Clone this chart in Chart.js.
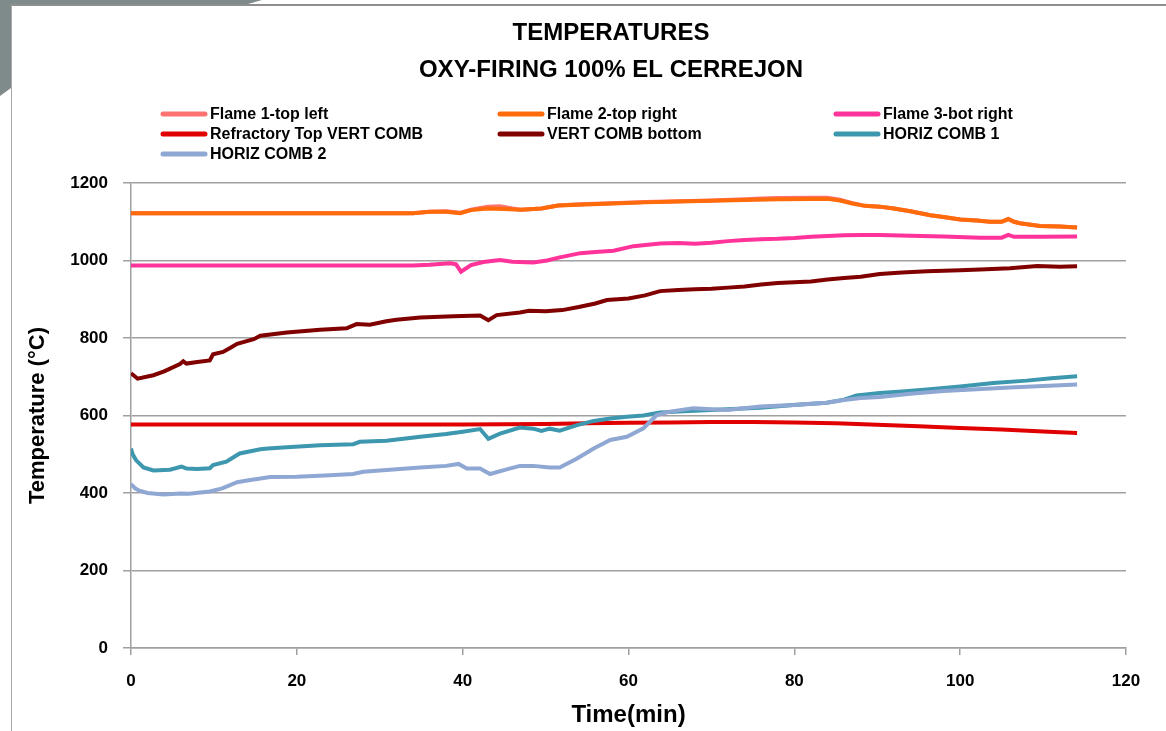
<!DOCTYPE html>
<html>
<head>
<meta charset="utf-8">
<script src="https://cdn.jsdelivr.net/npm/chart.js@4.4.1/dist/chart.umd.min.js"></script>
<style>
  html, body { margin: 0; padding: 0; background: #fff; overflow: hidden; }
  #wrap { position: relative; width: 1166px; height: 731px; }
  #slide { position: absolute; left: 0; top: 0; width: 270px; height: 100px; background: #7f8b8a;
           clip-path: polygon(0 0, 262px 0, 248px 4px, 11px 4px, 11px 88px, 0 96px); }
  #frame { position: absolute; left: 11px; top: 4px; right: 0; bottom: 0;
           border-left: 1.5px solid #a8a8a8; border-top: 2px solid #8e8e8e; }
  canvas { position: absolute; left: 0; top: 0; }
</style>
</head>
<body>
<div id="wrap">
  <div id="slide"></div>
  <div id="frame"></div>
  <canvas id="grafico" width="1166" height="731"></canvas>
</div>
<script>
// títulos y etiquetas
const titulo = ["TEMPERATURES", "OXY-FIRING 100% EL CERREJON"];
const series = ["Flame 1-top left", "Flame 2-top right", "Flame 3-bot right",
                "Refractory Top VERT COMB", "VERT COMB bottom", "HORIZ COMB 1", "HORIZ COMB 2"];
const colores = ["#ff7272", "#ff6a0a", "#ff3399", "#e00000", "#800000", "#3d97ae", "#8fa7d3"];

// tiempo (min) y temperatura (°C)
const flame1Time = [0, 34, 36, 38, 39.7, 41, 43, 44.5, 46, 47, 49.5, 51.5, 54, 58, 62, 66, 70, 74, 76, 78, 82, 84, 85.5, 87, 88.5, 90.3, 92, 94, 96.4, 98, 100, 102, 103.6, 105, 105.8, 106.5, 107.2, 109.6, 112, 114.1];
const flame1Temp = [1122, 1122, 1126, 1127, 1123, 1131, 1139, 1140, 1134, 1131, 1134, 1142, 1145, 1148, 1151, 1153, 1155, 1158, 1160, 1161, 1162, 1162, 1157, 1148, 1141, 1139, 1134, 1127, 1117, 1112, 1106, 1103, 1100, 1100, 1107, 1100, 1096, 1089, 1088, 1085];

const flame2Time = [0, 34, 36, 38, 39.7, 41, 43, 45, 47, 49.5, 51.5, 54, 58, 62, 66, 70, 74, 78, 82, 84, 85.5, 87, 88.5, 90.3, 92, 94, 96.4, 98, 100, 102, 103.6, 105, 105.8, 106.5, 107.2, 109.6, 112, 114.1];
const flame2Temp = [1122, 1122, 1126, 1126, 1122, 1130, 1134, 1133, 1131, 1134, 1142, 1144, 1147, 1150, 1152, 1154, 1156, 1158, 1159, 1159, 1155, 1147, 1141, 1139, 1134, 1127, 1117, 1112, 1106, 1103, 1100, 1100, 1107, 1100, 1096, 1089, 1088, 1085];

const flame3Time = [0, 34, 36, 38.5, 39.2, 39.8, 41, 42.5, 44.5, 46, 48.5, 50.2, 51.7, 54.2, 56, 58.2, 60.6, 63.8, 66, 68, 70, 72, 74, 76, 78, 80, 82, 84, 86, 88, 90.3, 94, 98, 102.4, 105, 105.8, 106.5, 110, 114.1];
const flame3Temp = [987, 987, 989, 993, 990, 971, 988, 996, 1001, 997, 995, 1000, 1008, 1019, 1022, 1025, 1037, 1044, 1045, 1043, 1046, 1050, 1053, 1055, 1056, 1058, 1061, 1063, 1065, 1066, 1066, 1064, 1062, 1059, 1059, 1066, 1061, 1061, 1062];

const refractTime = [0, 20, 40, 50, 55, 60, 65, 70, 75, 80, 85, 90, 95, 100, 105, 110, 114.1];
const refractTemp = [577, 577, 577, 578, 580, 581, 582, 583, 583, 582, 580, 576, 572, 568, 564, 559, 555];

const vertTime = [0, 0.8, 2.7, 4, 5.9, 6.3, 6.7, 8, 9.5, 9.9, 11.1, 12, 12.8, 14.8, 15.6, 18.8, 22.8, 26, 27.2, 28.8, 30.8, 32, 34.9, 38.9, 42.1, 43.1, 44.1, 46.9, 48, 50, 52, 54, 56, 57.4, 60, 62, 63.8, 66, 68, 70, 72, 74, 76, 78, 80, 82, 84, 86, 88, 90.3, 93, 96, 100, 102.4, 106, 109.3, 112, 114.1];
const vertTemp = [709, 695, 704, 714, 733, 740, 734, 738, 742, 758, 764, 775, 785, 797, 806, 814, 821, 825, 836, 834, 843, 847, 853, 856, 858, 846, 859, 866, 870, 869, 872, 880, 889, 898, 902, 910, 921, 924, 926, 927, 930, 933, 938, 942, 944, 946, 951, 955, 958, 965, 969, 972, 975, 977, 980, 986, 984, 985];

const horiz1Time = [0, 0.2, 0.6, 1.5, 2.7, 4.7, 6.1, 6.7, 8, 9.5, 9.9, 11.5, 13.1, 15.6, 16.5, 18.8, 22.8, 26.8, 27.6, 30.8, 34.9, 38, 40, 42.1, 43.1, 44.5, 46.9, 48.5, 49.5, 50.5, 51.7, 53.8, 55.8, 57.8, 59.8, 61.8, 63.8, 66, 68, 71.9, 75.9, 79.9, 83.9, 86, 87.5, 90.3, 93, 96, 100, 104, 108, 111, 114.1];
const horiz1Temp = [515, 500, 485, 466, 458, 460, 468, 463, 462, 464, 472, 481, 502, 513, 515, 518, 523, 526, 532, 535, 545, 552, 558, 565, 540, 553, 569, 566, 560, 566, 561, 575, 586, 592, 597, 600, 608, 610, 612, 616, 620, 627, 633, 641, 652, 658, 662, 667, 675, 684, 690, 696, 701];

const horiz2Time = [0, 0.5, 1, 2, 3.9, 6, 7, 9.5, 11, 12.8, 14, 16.8, 20, 24, 26.8, 28, 30, 34.9, 38, 39.5, 40.5, 42.1, 43.3, 45.3, 46.9, 48.5, 50.5, 51.7, 53.8, 55.8, 57.8, 59.8, 61.8, 63.4, 65, 67.8, 71.9, 75.9, 79.9, 83.9, 86, 88, 90.3, 94, 98, 102, 106, 110, 114.1];
const horiz2Temp = [423, 412, 406, 400, 396, 399, 398, 404, 412, 428, 432, 441, 442, 446, 449, 455, 458, 466, 470, 475, 463, 463, 449, 461, 470, 470, 466, 466, 489, 515, 537, 545, 567, 601, 610, 619, 614, 623, 627, 633, 640, 645, 648, 656, 663, 668, 672, 676, 680];

// ejes
const xTicks = { min: 0, max: 120, step: 20 };
const yTicks = { min: 0, max: 1200, step: 200 };

function puntos(tiempos, temps) {
    return tiempos.map((t, i) => ({ x: t, y: temps[i] }));
}

const datos = [
    puntos(flame1Time, flame1Temp),
    puntos(flame2Time, flame2Temp),
    puntos(flame3Time, flame3Temp),
    puntos(refractTime, refractTemp),
    puntos(vertTime, vertTemp),
    puntos(horiz1Time, horiz1Temp),
    puntos(horiz2Time, horiz2Temp),
];

const fuente = "'Liberation Sans', Arial, sans-serif";

// titulo y leyenda en 3 columnas, como en Excel
const tituloLeyenda = {
    id: 'tituloLeyenda',
    afterDraw(chart) {
        const ctx = chart.ctx;
        ctx.save();
        ctx.fillStyle = '#000';
        ctx.textAlign = 'center';
        ctx.textBaseline = 'middle';
        ctx.font = 'bold 24px ' + fuente;
        ctx.fillText(titulo[0], 611, 33);
        ctx.fillText(titulo[1], 611, 70);

        const columnas = [163, 500, 836];
        const filas = [114, 134, 154];
        ctx.textAlign = 'left';
        ctx.font = 'bold 16px ' + fuente;
        chart.data.datasets.forEach((ds, i) => {
            const x = columnas[i % 3];
            const y = filas[Math.floor(i / 3)];
            ctx.strokeStyle = ds.borderColor;
            ctx.lineWidth = 5;
            ctx.lineCap = 'round';
            ctx.beginPath();
            ctx.moveTo(x, y);
            ctx.lineTo(x + 42, y);
            ctx.stroke();
            ctx.fillStyle = '#000';
            ctx.fillText(ds.label, x + 47, y + 1);
        });
        ctx.restore();
    }
};

const ctx = document.getElementById("grafico").getContext("2d");
new Chart(ctx, {
    type: 'line',
    data: {
        datasets: series.map((nombre, i) => ({
            label: nombre,
            data: datos[i],
            borderColor: colores[i],
            backgroundColor: colores[i],
            borderWidth: 4,
            pointRadius: 0,
            tension: 0,
            fill: false,
            order: series.length - 1 - i,
        })),
    },
    options: {
        responsive: false,
        animation: false,
        devicePixelRatio: 1,
        layout: { padding: { top: 183, right: 40, left: 0, bottom: 0 } },
        plugins: {
            legend: { display: false },
            title: { display: false },
            tooltip: { enabled: false },
        },
        scales: {
            x: {
                type: 'linear',
                min: xTicks.min,
                max: xTicks.max,
                ticks: {
                    stepSize: xTicks.step,
                    color: '#000',
                    font: { family: fuente, size: 17, weight: 'bold' },
                    padding: 16,
                    maxRotation: 0,
                    callback: (v) => String(v),
                },
                grid: { drawOnChartArea: false, drawTicks: true, tickLength: 7, color: '#a0a0a0', lineWidth: 1.5 },
                border: { display: true, color: '#a0a0a0', width: 1.5 },
                title: {
                    display: true,
                    text: 'Time(min)',
                    color: '#000',
                    font: { family: fuente, size: 24, weight: 'bold' },
                    padding: { top: 0, bottom: 1 },
                },
                afterFit(scale) { scale.height = 83; },
            },
            y: {
                min: yTicks.min,
                max: yTicks.max,
                ticks: {
                    stepSize: yTicks.step,
                    color: '#000',
                    font: { family: fuente, size: 17, weight: 'bold' },
                    padding: 15,
                    callback: (v) => String(v),
                },
                grid: { color: '#a0a0a0', lineWidth: 1.5, tickLength: 8 },
                border: { display: true, color: '#a0a0a0', width: 1.5 },
                title: {
                    display: true,
                    text: 'Temperature (°C)',
                    color: '#000',
                    font: { family: fuente, size: 22, weight: 'bold' },
                    padding: { top: 25, bottom: 0 },
                },
                afterFit(scale) { scale.width = 131; },
            },
        },
    },
    plugins: [tituloLeyenda],
});
</script>
</body>
</html>
